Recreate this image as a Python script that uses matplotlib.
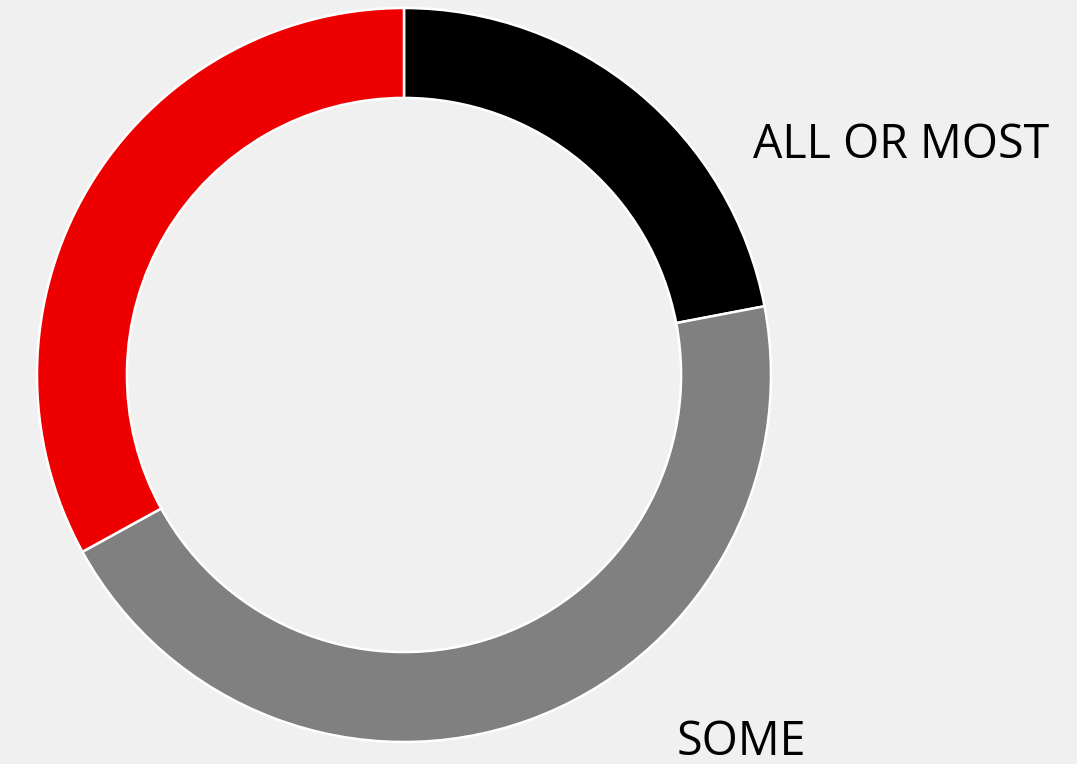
import matplotlib
matplotlib.use("Agg")
import matplotlib.pyplot as plt

categories = ["ALL OR MOST", "SOME", "NONE"]
values = [22, 45, 33]
colors = ["#000000", "#808080", "#ee0000"]
shown_labels = ["ALL OR MOST", "SOME"]

W, H = 1077, 764
fig = plt.figure(figsize=(W / 100, H / 100), dpi=100)
fig.patch.set_facecolor("#f0f0f0")
ax = fig.add_axes([0, 0, 1, 1])
ax.set_facecolor("#f0f0f0")

R = 367
ax.pie(values, colors=colors, startangle=90, counterclock=False,
       center=(404, H - 375), radius=R, frame=True,
       wedgeprops=dict(width=R * 0.245, edgecolor="white", linewidth=1.8))
ax.set_xlim(0, W)
ax.set_ylim(0, H)
ax.set_aspect("equal")
ax.axis("off")

font = "Open Sans"
ax.text(753, H - 158, shown_labels[0], fontsize=33.5, family=font,
        ha="left", va="baseline", color="black")
ax.text(677, H - 755, shown_labels[1], fontsize=33.5, family=font,
        ha="left", va="baseline", color="black")

fig.savefig("out.png", dpi=100, facecolor=fig.get_facecolor())
